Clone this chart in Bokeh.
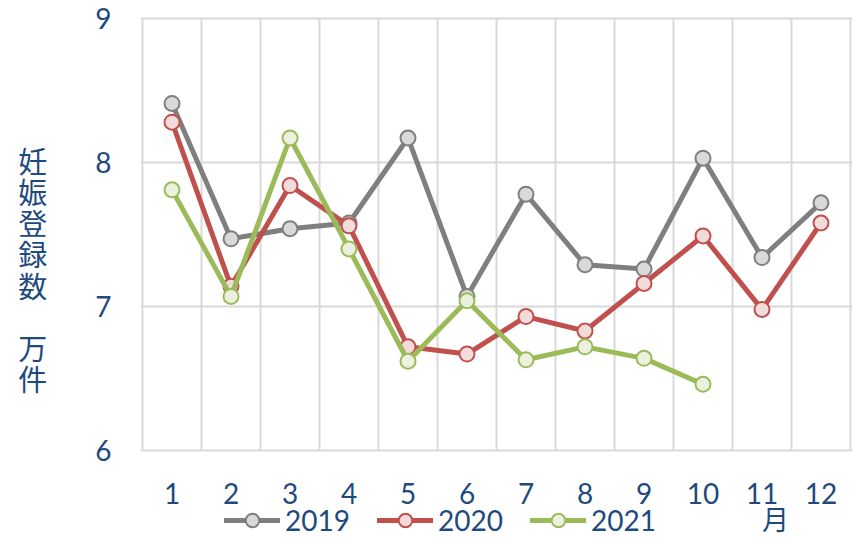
from bokeh.plotting import figure
from bokeh.models import Range1d, FixedTicker, Legend, LegendItem, Label
from bokeh.core.properties import value
from bokeh.embed import file_html
from bokeh.resources import INLINE

months = [1, 2, 3, 4, 5, 6, 7, 8, 9, 10, 11, 12]
month_labels = ["1", "2", "3", "4", "5", "6", "7", "8", "9", "10", "11", "12"]
v2019 = [8.41, 7.47, 7.54, 7.58, 8.17, 7.07, 7.78, 7.29, 7.26, 8.03, 7.34, 7.72]
v2020 = [8.28, 7.14, 7.84, 7.56, 6.72, 6.67, 6.93, 6.83, 7.16, 7.49, 6.98, 7.58]
v2021 = [7.81, 7.07, 8.17, 7.40, 6.62, 7.04, 6.63, 6.72, 6.64, 6.46]
y_ticks = [6, 7, 8, 9]
series_names = ["2019", "2020", "2021"]
y_title = "妊\n娠\n登\n録\n数\n\u3000\n万\n件"
x_title = "月"

TXT = "#1F4A7E"
FONT = "Lato"
CJK = "Noto Sans CJK JP"
GRID = "#D9D9D9"

W, H = 858, 537
p = figure(width=W, height=H, output_backend="svg", toolbar_location=None,
           x_range=Range1d(0.466, 12.534), y_range=Range1d(5.396, 9.125),
           min_border_left=140, min_border_right=6, min_border_top=0, min_border_bottom=0)
p.outline_line_color = None
p.background_fill_color = "white"
p.border_fill_color = "white"

# horizontal gridlines via the grid, vertical category separators as segments
p.xgrid.visible = False
p.ygrid.ticker = FixedTicker(ticks=y_ticks)
p.ygrid.grid_line_color = GRID
p.ygrid.grid_line_width = 2
sep = [m - 0.5 for m in months] + [months[-1] + 0.5]
p.segment(x0=sep, y0=[min(y_ticks)] * len(sep), x1=sep, y1=[max(y_ticks)] * len(sep),
          line_color=GRID, line_width=2)

p.xaxis.visible = False
p.yaxis.ticker = FixedTicker(ticks=y_ticks)
ax = p.yaxis[0]
ax.axis_line_color = None
ax.major_tick_line_color = None
ax.minor_tick_line_color = None
ax.major_tick_out = 0
ax.major_tick_in = 0
ax.major_label_text_font = FONT
ax.major_label_text_font_size = "28px"
ax.major_label_text_color = TXT
ax.major_label_standoff = 29
ax.axis_label = y_title
ax.axis_label_orientation = "horizontal"
ax.axis_label_text_font = CJK
ax.axis_label_text_font_size = "29px"
ax.axis_label_text_font_style = "normal"
ax.axis_label_text_color = TXT
ax.axis_label_text_line_height = 0.74
ax.axis_label_standoff = 45

# month tick labels, placed below the plot area through the data scales
p.text(x=months, y=[5.70] * len(months), text=month_labels,
       text_font=value(FONT), text_font_size="28px", text_color=TXT,
       text_align="center", text_baseline="middle")

styles = [("#7F7F7F", "#D9D9D9"), ("#C0504D", "#F2DCDB"), ("#9BBB59", "#EBF1DE")]
items = []
for name, vals, (lc, fc) in zip(series_names, [v2019, v2020, v2021], styles):
    xs = months[:len(vals)]
    r1 = p.line(xs, vals, line_color=lc, line_width=5, line_join="round", line_cap="round")
    r2 = p.scatter(xs, vals, size=15, fill_color=fc, line_color=lc, line_width=2)
    items.append(LegendItem(label=name, renderers=[r1, r2]))

legend = Legend(items=items, orientation="horizontal", location=(84, 0),
                glyph_width=56, glyph_height=34, label_standoff=5, spacing=27,
                padding=0, margin=0, background_fill_alpha=0, border_line_color=None,
                label_text_font=FONT, label_text_font_size="28px", label_text_color=TXT)
p.add_layout(legend, "center")

p.add_layout(Label(x=635, y=19, x_units="screen", y_units="screen", text=x_title,
                   text_font=CJK, text_font_size="27px", text_color=TXT,
                   text_align="center", text_baseline="middle"))

open("out.html", "w").write(file_html(p, INLINE))
